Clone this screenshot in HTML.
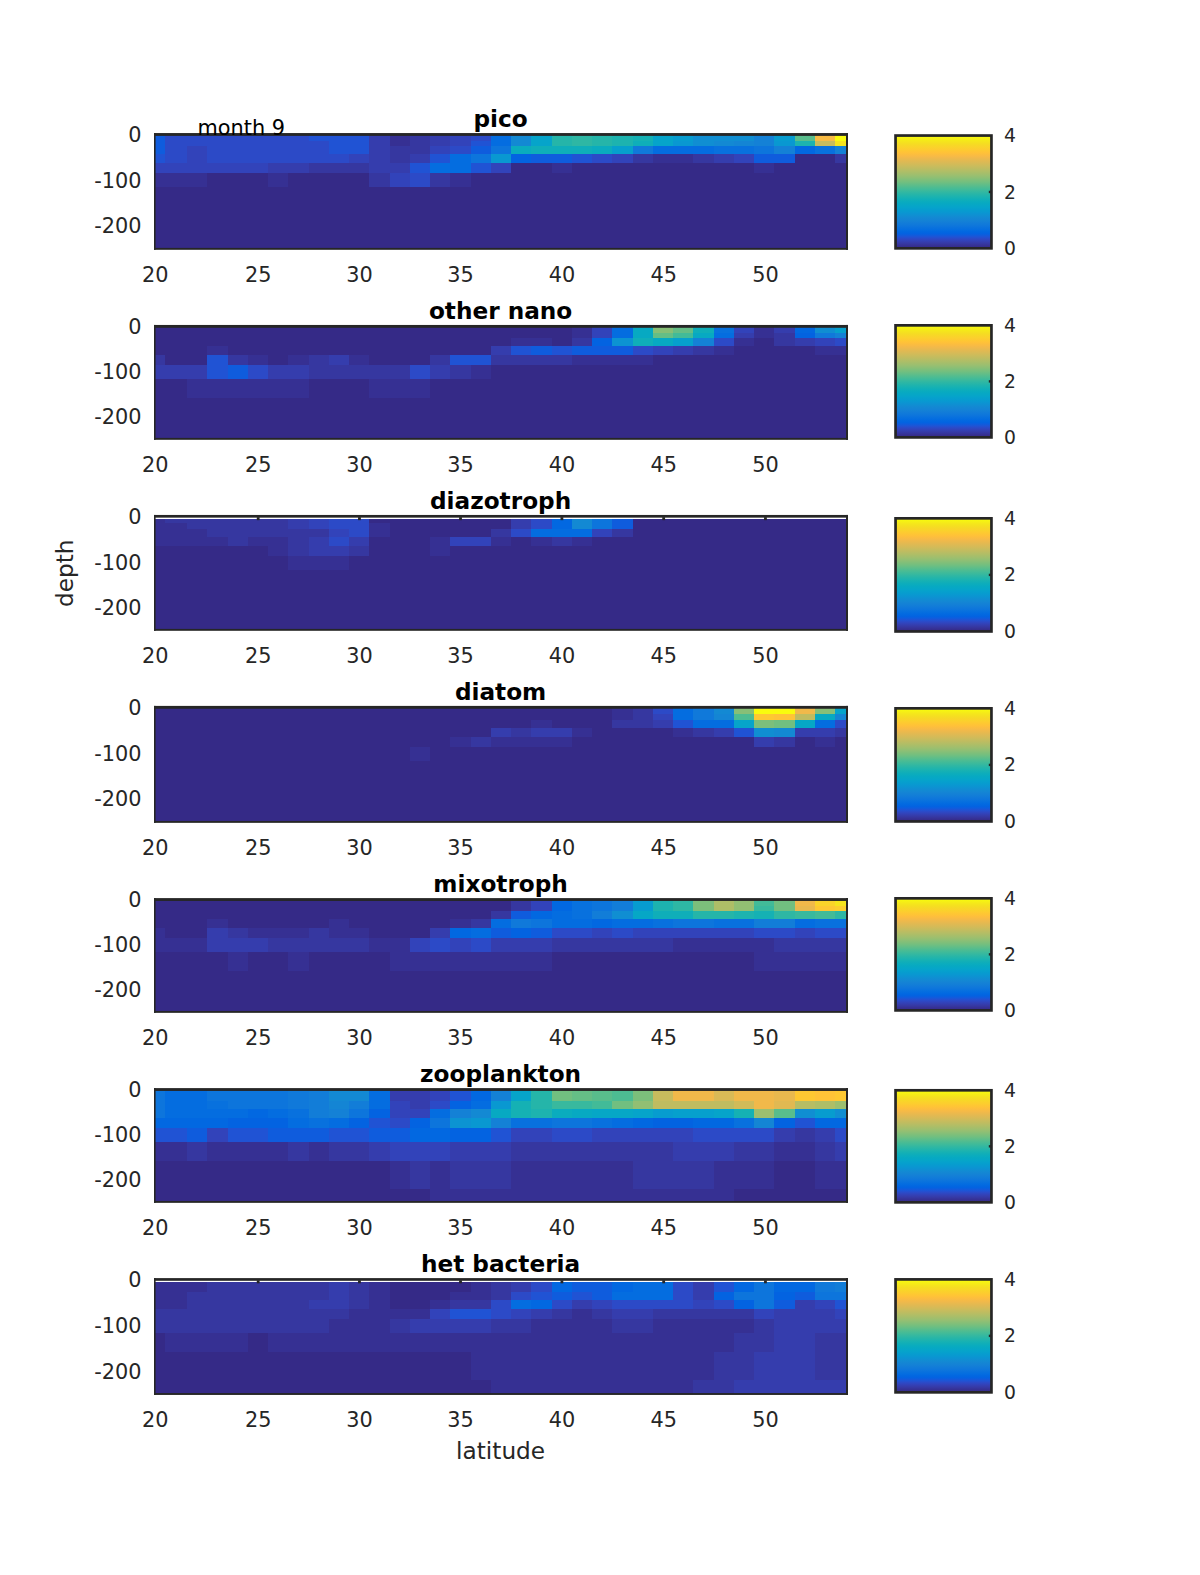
<!DOCTYPE html>
<html><head><meta charset="utf-8"><title>month 9</title>
<style>html,body{margin:0;padding:0;background:#fff}svg{display:block}text{font-family:'DejaVu Sans','Liberation Sans',sans-serif}</style></head>
<body>
<svg width="1200" height="1575" viewBox="0 0 1200 1575">
<defs><linearGradient id="pg" x1="0" y1="1" x2="0" y2="0"><stop offset="0.0078" stop-color="#352a87"/><stop offset="0.0234" stop-color="#363093"/><stop offset="0.0391" stop-color="#3637a0"/><stop offset="0.0547" stop-color="#353dad"/><stop offset="0.0703" stop-color="#3243ba"/><stop offset="0.0859" stop-color="#2c4ac7"/><stop offset="0.1016" stop-color="#2053d4"/><stop offset="0.1172" stop-color="#0f5cdd"/><stop offset="0.1328" stop-color="#0363e1"/><stop offset="0.1484" stop-color="#0268e1"/><stop offset="0.1641" stop-color="#046de0"/><stop offset="0.1797" stop-color="#0871de"/><stop offset="0.1953" stop-color="#0d75dc"/><stop offset="0.2109" stop-color="#1079da"/><stop offset="0.2266" stop-color="#127dd8"/><stop offset="0.2422" stop-color="#1481d6"/><stop offset="0.2578" stop-color="#1485d4"/><stop offset="0.2734" stop-color="#1389d3"/><stop offset="0.2891" stop-color="#108ed2"/><stop offset="0.3047" stop-color="#0c93d2"/><stop offset="0.3203" stop-color="#0998d1"/><stop offset="0.3359" stop-color="#079ccf"/><stop offset="0.3516" stop-color="#06a0cd"/><stop offset="0.3672" stop-color="#06a4ca"/><stop offset="0.3828" stop-color="#06a7c6"/><stop offset="0.3984" stop-color="#07a9c2"/><stop offset="0.4141" stop-color="#0aacbe"/><stop offset="0.4297" stop-color="#0faeb9"/><stop offset="0.4453" stop-color="#15b1b4"/><stop offset="0.4609" stop-color="#1db3af"/><stop offset="0.4766" stop-color="#25b5a9"/><stop offset="0.4922" stop-color="#2eb7a4"/><stop offset="0.5078" stop-color="#38b99e"/><stop offset="0.5234" stop-color="#42bb98"/><stop offset="0.5391" stop-color="#4dbc92"/><stop offset="0.5547" stop-color="#59bd8c"/><stop offset="0.5703" stop-color="#65be86"/><stop offset="0.5859" stop-color="#71bf80"/><stop offset="0.6016" stop-color="#7cbf7b"/><stop offset="0.6172" stop-color="#87bf77"/><stop offset="0.6328" stop-color="#92bf73"/><stop offset="0.6484" stop-color="#9cbf6f"/><stop offset="0.6641" stop-color="#a5be6b"/><stop offset="0.6797" stop-color="#aebe67"/><stop offset="0.6953" stop-color="#b7bd64"/><stop offset="0.7109" stop-color="#c0bc60"/><stop offset="0.7266" stop-color="#c8bc5d"/><stop offset="0.7422" stop-color="#d1bb59"/><stop offset="0.7578" stop-color="#d9ba56"/><stop offset="0.7734" stop-color="#e1b952"/><stop offset="0.7891" stop-color="#e9b94e"/><stop offset="0.8047" stop-color="#f1b94a"/><stop offset="0.8203" stop-color="#f8bb44"/><stop offset="0.8359" stop-color="#fdbe3d"/><stop offset="0.8516" stop-color="#ffc337"/><stop offset="0.8672" stop-color="#fec832"/><stop offset="0.8828" stop-color="#fcce2e"/><stop offset="0.8984" stop-color="#fad32a"/><stop offset="0.9141" stop-color="#f7d826"/><stop offset="0.9297" stop-color="#f5de21"/><stop offset="0.9453" stop-color="#f5e41d"/><stop offset="0.9609" stop-color="#f5eb18"/><stop offset="0.9766" stop-color="#f6f313"/><stop offset="0.9922" stop-color="#f9fb0e"/></linearGradient></defs>
<rect width="1200" height="1575" fill="#fff"/>
<g shape-rendering="crispEdges">
<rect x="154.80" y="134.05" width="692.40" height="114.75" fill="#352a87"/>
<rect x="154.80" y="134.05" width="10.20" height="6.90" fill="#0f5cdd"/><rect x="165.00" y="134.05" width="143.50" height="6.90" fill="#2c4ac7"/><rect x="308.50" y="134.05" width="60.75" height="6.90" fill="#2053d4"/><rect x="369.25" y="134.05" width="20.25" height="6.90" fill="#353dad"/><rect x="389.50" y="134.05" width="20.25" height="6.90" fill="#363093"/><rect x="409.75" y="134.05" width="20.25" height="6.90" fill="#3637a0"/><rect x="430.00" y="134.05" width="20.25" height="6.90" fill="#353dad"/><rect x="450.25" y="134.05" width="20.25" height="6.90" fill="#3243ba"/><rect x="470.50" y="134.05" width="20.25" height="6.90" fill="#2c4ac7"/><rect x="490.75" y="134.05" width="20.25" height="6.90" fill="#046de0"/><rect x="511.00" y="134.05" width="20.25" height="6.90" fill="#1389d3"/><rect x="531.25" y="134.05" width="20.25" height="6.90" fill="#06a4ca"/><rect x="551.50" y="134.05" width="20.25" height="6.90" fill="#25b5a9"/><rect x="571.75" y="134.05" width="20.25" height="6.90" fill="#2eb7a4"/><rect x="592.00" y="134.05" width="20.25" height="6.90" fill="#25b5a9"/><rect x="612.25" y="134.05" width="20.25" height="6.90" fill="#1db3af"/><rect x="632.50" y="134.05" width="20.25" height="6.90" fill="#15b1b4"/><rect x="652.75" y="134.05" width="20.25" height="6.90" fill="#06a4ca"/><rect x="673.00" y="134.05" width="20.25" height="6.90" fill="#079ccf"/><rect x="693.25" y="134.05" width="60.75" height="6.90" fill="#108ed2"/><rect x="754.00" y="134.05" width="20.25" height="6.90" fill="#1481d6"/><rect x="774.25" y="134.05" width="20.25" height="6.90" fill="#079ccf"/><rect x="794.50" y="134.05" width="20.25" height="6.90" fill="#59bd8c"/><rect x="814.75" y="134.05" width="20.25" height="6.90" fill="#f8bb44"/><rect x="835.00" y="134.05" width="12.20" height="6.90" fill="#f9fb0e"/>
<rect x="154.80" y="140.95" width="10.20" height="5.00" fill="#0f5cdd"/><rect x="165.00" y="140.95" width="163.75" height="5.00" fill="#2c4ac7"/><rect x="328.75" y="140.95" width="40.50" height="5.00" fill="#2053d4"/><rect x="369.25" y="140.95" width="20.25" height="5.00" fill="#353dad"/><rect x="389.50" y="140.95" width="20.25" height="5.00" fill="#363093"/><rect x="409.75" y="140.95" width="20.25" height="5.00" fill="#3637a0"/><rect x="430.00" y="140.95" width="20.25" height="5.00" fill="#353dad"/><rect x="450.25" y="140.95" width="20.25" height="5.00" fill="#3243ba"/><rect x="470.50" y="140.95" width="20.25" height="5.00" fill="#2053d4"/><rect x="490.75" y="140.95" width="20.25" height="5.00" fill="#046de0"/><rect x="511.00" y="140.95" width="20.25" height="5.00" fill="#1389d3"/><rect x="531.25" y="140.95" width="20.25" height="5.00" fill="#06a4ca"/><rect x="551.50" y="140.95" width="20.25" height="5.00" fill="#25b5a9"/><rect x="571.75" y="140.95" width="20.25" height="5.00" fill="#2eb7a4"/><rect x="592.00" y="140.95" width="20.25" height="5.00" fill="#25b5a9"/><rect x="612.25" y="140.95" width="20.25" height="5.00" fill="#1db3af"/><rect x="632.50" y="140.95" width="20.25" height="5.00" fill="#0faeb9"/><rect x="652.75" y="140.95" width="20.25" height="5.00" fill="#06a4ca"/><rect x="673.00" y="140.95" width="20.25" height="5.00" fill="#0998d1"/><rect x="693.25" y="140.95" width="20.25" height="5.00" fill="#108ed2"/><rect x="713.50" y="140.95" width="20.25" height="5.00" fill="#1389d3"/><rect x="733.75" y="140.95" width="20.25" height="5.00" fill="#1485d4"/><rect x="754.00" y="140.95" width="20.25" height="5.00" fill="#1481d6"/><rect x="774.25" y="140.95" width="20.25" height="5.00" fill="#0998d1"/><rect x="794.50" y="140.95" width="20.25" height="5.00" fill="#1db3af"/><rect x="814.75" y="140.95" width="20.25" height="5.00" fill="#c8bc5d"/><rect x="835.00" y="140.95" width="12.20" height="5.00" fill="#f5e41d"/>
<rect x="154.80" y="145.95" width="10.20" height="8.00" fill="#0f5cdd"/><rect x="165.00" y="145.95" width="22.00" height="8.00" fill="#2c4ac7"/><rect x="187.00" y="145.95" width="20.25" height="8.00" fill="#3243ba"/><rect x="207.25" y="145.95" width="121.50" height="8.00" fill="#2c4ac7"/><rect x="328.75" y="145.95" width="40.50" height="8.00" fill="#2053d4"/><rect x="369.25" y="145.95" width="20.25" height="8.00" fill="#353dad"/><rect x="389.50" y="145.95" width="40.50" height="8.00" fill="#3637a0"/><rect x="430.00" y="145.95" width="20.25" height="8.00" fill="#3243ba"/><rect x="450.25" y="145.95" width="20.25" height="8.00" fill="#2c4ac7"/><rect x="470.50" y="145.95" width="20.25" height="8.00" fill="#0f5cdd"/><rect x="490.75" y="145.95" width="20.25" height="8.00" fill="#0d75dc"/><rect x="511.00" y="145.95" width="20.25" height="8.00" fill="#0aacbe"/><rect x="531.25" y="145.95" width="60.75" height="8.00" fill="#0faeb9"/><rect x="592.00" y="145.95" width="20.25" height="8.00" fill="#0aacbe"/><rect x="612.25" y="145.95" width="20.25" height="8.00" fill="#06a0cd"/><rect x="632.50" y="145.95" width="20.25" height="8.00" fill="#1079da"/><rect x="652.75" y="145.95" width="60.75" height="8.00" fill="#046de0"/><rect x="713.50" y="145.95" width="40.50" height="8.00" fill="#0871de"/><rect x="754.00" y="145.95" width="20.25" height="8.00" fill="#0d75dc"/><rect x="774.25" y="145.95" width="20.25" height="8.00" fill="#1481d6"/><rect x="794.50" y="145.95" width="20.25" height="8.00" fill="#0268e1"/><rect x="814.75" y="145.95" width="20.25" height="8.00" fill="#0871de"/><rect x="835.00" y="145.95" width="12.20" height="8.00" fill="#1481d6"/>
<rect x="154.80" y="153.95" width="10.20" height="9.00" fill="#2053d4"/><rect x="165.00" y="153.95" width="22.00" height="9.00" fill="#2c4ac7"/><rect x="187.00" y="153.95" width="20.25" height="9.00" fill="#3243ba"/><rect x="207.25" y="153.95" width="141.75" height="9.00" fill="#2c4ac7"/><rect x="349.00" y="153.95" width="20.25" height="9.00" fill="#3243ba"/><rect x="369.25" y="153.95" width="20.25" height="9.00" fill="#353dad"/><rect x="389.50" y="153.95" width="20.25" height="9.00" fill="#3637a0"/><rect x="409.75" y="153.95" width="20.25" height="9.00" fill="#353dad"/><rect x="430.00" y="153.95" width="20.25" height="9.00" fill="#2053d4"/><rect x="450.25" y="153.95" width="20.25" height="9.00" fill="#046de0"/><rect x="470.50" y="153.95" width="20.25" height="9.00" fill="#0d75dc"/><rect x="490.75" y="153.95" width="20.25" height="9.00" fill="#0998d1"/><rect x="511.00" y="153.95" width="20.25" height="9.00" fill="#0363e1"/><rect x="531.25" y="153.95" width="40.50" height="9.00" fill="#0f5cdd"/><rect x="571.75" y="153.95" width="20.25" height="9.00" fill="#2053d4"/><rect x="592.00" y="153.95" width="20.25" height="9.00" fill="#2c4ac7"/><rect x="612.25" y="153.95" width="20.25" height="9.00" fill="#3243ba"/><rect x="632.50" y="153.95" width="20.25" height="9.00" fill="#3637a0"/><rect x="652.75" y="153.95" width="40.50" height="9.00" fill="#363093"/><rect x="693.25" y="153.95" width="20.25" height="9.00" fill="#3637a0"/><rect x="713.50" y="153.95" width="20.25" height="9.00" fill="#353dad"/><rect x="733.75" y="153.95" width="20.25" height="9.00" fill="#3243ba"/><rect x="754.00" y="153.95" width="40.50" height="9.00" fill="#0f5cdd"/><rect x="835.00" y="153.95" width="12.20" height="9.00" fill="#3637a0"/>
<rect x="154.80" y="162.95" width="113.20" height="10.20" fill="#3243ba"/><rect x="268.00" y="162.95" width="40.50" height="10.20" fill="#353dad"/><rect x="308.50" y="162.95" width="60.75" height="10.20" fill="#3637a0"/><rect x="369.25" y="162.95" width="40.50" height="10.20" fill="#353dad"/><rect x="409.75" y="162.95" width="20.25" height="10.20" fill="#2053d4"/><rect x="430.00" y="162.95" width="40.50" height="10.20" fill="#046de0"/><rect x="470.50" y="162.95" width="20.25" height="10.20" fill="#2053d4"/><rect x="490.75" y="162.95" width="20.25" height="10.20" fill="#3243ba"/><rect x="551.50" y="162.95" width="20.25" height="10.20" fill="#363093"/><rect x="754.00" y="162.95" width="20.25" height="10.20" fill="#363093"/>
<rect x="154.80" y="173.15" width="52.45" height="13.80" fill="#363093"/><rect x="268.00" y="173.15" width="20.25" height="13.80" fill="#363093"/><rect x="369.25" y="173.15" width="20.25" height="13.80" fill="#3637a0"/><rect x="389.50" y="173.15" width="20.25" height="13.80" fill="#3243ba"/><rect x="409.75" y="173.15" width="20.25" height="13.80" fill="#2c4ac7"/><rect x="430.00" y="173.15" width="20.25" height="13.80" fill="#3637a0"/><rect x="450.25" y="173.15" width="20.25" height="13.80" fill="#363093"/>



</g>
<g fill="#262626"><rect x="154.00" y="133.05" width="694.00" height="2.85"/><rect x="154.00" y="247.90" width="694.00" height="1.90"/><rect x="154.00" y="133.05" width="1.60" height="116.75"/><rect x="846.00" y="133.05" width="2.00" height="116.75"/></g>
<text x="500.6" y="126.65" font-size="23.2" font-weight="bold" text-anchor="middle" fill="#000">pico</text>
<text x="141.5" y="142.05" font-size="20.83" text-anchor="end" fill="#262626">0</text><text x="141.5" y="188.09" font-size="20.83" text-anchor="end" fill="#262626">-100</text><text x="141.5" y="233.43" font-size="20.83" text-anchor="end" fill="#262626">-200</text>
<text x="155.20" y="282.00" font-size="20.83" text-anchor="middle" fill="#262626">20</text><text x="258.18" y="282.00" font-size="20.83" text-anchor="middle" fill="#262626">25</text><text x="359.45" y="282.00" font-size="20.83" text-anchor="middle" fill="#262626">30</text><text x="460.52" y="282.00" font-size="20.83" text-anchor="middle" fill="#262626">35</text><text x="561.90" y="282.00" font-size="20.83" text-anchor="middle" fill="#262626">40</text><text x="663.67" y="282.00" font-size="20.83" text-anchor="middle" fill="#262626">45</text><text x="765.45" y="282.00" font-size="20.83" text-anchor="middle" fill="#262626">50</text>
<rect x="895.55" y="135.55" width="95.90" height="112.80" fill="url(#pg)" stroke="#262626" stroke-width="2.7"/><rect x="988.8" y="190.75" width="3" height="2.4" fill="#262626"/><text x="1004.1" y="254.95" font-size="18.75" fill="#262626">0</text><text x="1004.1" y="198.50" font-size="18.75" fill="#262626">2</text><text x="1004.1" y="142.05" font-size="18.75" fill="#262626">4</text>
<g shape-rendering="crispEdges">
<rect x="154.80" y="325.95" width="692.40" height="112.85" fill="#352a87"/>
<rect x="571.75" y="325.95" width="20.25" height="6.90" fill="#363093"/><rect x="592.00" y="325.95" width="20.25" height="6.90" fill="#3243ba"/><rect x="612.25" y="325.95" width="20.25" height="6.90" fill="#046de0"/><rect x="632.50" y="325.95" width="20.25" height="6.90" fill="#07a9c2"/><rect x="652.75" y="325.95" width="20.25" height="6.90" fill="#87bf77"/><rect x="673.00" y="325.95" width="20.25" height="6.90" fill="#65be86"/><rect x="693.25" y="325.95" width="20.25" height="6.90" fill="#0faeb9"/><rect x="713.50" y="325.95" width="20.25" height="6.90" fill="#0871de"/><rect x="733.75" y="325.95" width="20.25" height="6.90" fill="#3243ba"/><rect x="754.00" y="325.95" width="20.25" height="6.90" fill="#363093"/><rect x="774.25" y="325.95" width="20.25" height="6.90" fill="#353dad"/><rect x="794.50" y="325.95" width="20.25" height="6.90" fill="#0268e1"/><rect x="814.75" y="325.95" width="20.25" height="6.90" fill="#108ed2"/><rect x="835.00" y="325.95" width="12.20" height="6.90" fill="#06a0cd"/>
<rect x="571.75" y="332.85" width="20.25" height="5.00" fill="#363093"/><rect x="592.00" y="332.85" width="20.25" height="5.00" fill="#3243ba"/><rect x="612.25" y="332.85" width="20.25" height="5.00" fill="#046de0"/><rect x="632.50" y="332.85" width="20.25" height="5.00" fill="#07a9c2"/><rect x="652.75" y="332.85" width="20.25" height="5.00" fill="#65be86"/><rect x="673.00" y="332.85" width="20.25" height="5.00" fill="#42bb98"/><rect x="693.25" y="332.85" width="20.25" height="5.00" fill="#07a9c2"/><rect x="713.50" y="332.85" width="20.25" height="5.00" fill="#046de0"/><rect x="733.75" y="332.85" width="20.25" height="5.00" fill="#353dad"/><rect x="754.00" y="332.85" width="20.25" height="5.00" fill="#363093"/><rect x="774.25" y="332.85" width="20.25" height="5.00" fill="#3637a0"/><rect x="794.50" y="332.85" width="20.25" height="5.00" fill="#0363e1"/><rect x="814.75" y="332.85" width="20.25" height="5.00" fill="#1079da"/><rect x="835.00" y="332.85" width="12.20" height="5.00" fill="#1481d6"/>
<rect x="511.00" y="337.85" width="40.50" height="8.00" fill="#363093"/><rect x="571.75" y="337.85" width="20.25" height="8.00" fill="#3637a0"/><rect x="592.00" y="337.85" width="20.25" height="8.00" fill="#0363e1"/><rect x="612.25" y="337.85" width="20.25" height="8.00" fill="#0c93d2"/><rect x="632.50" y="337.85" width="20.25" height="8.00" fill="#0faeb9"/><rect x="652.75" y="337.85" width="20.25" height="8.00" fill="#07a9c2"/><rect x="673.00" y="337.85" width="20.25" height="8.00" fill="#06a0cd"/><rect x="693.25" y="337.85" width="20.25" height="8.00" fill="#1481d6"/><rect x="713.50" y="337.85" width="20.25" height="8.00" fill="#2c4ac7"/><rect x="733.75" y="337.85" width="20.25" height="8.00" fill="#363093"/><rect x="774.25" y="337.85" width="20.25" height="8.00" fill="#3637a0"/><rect x="794.50" y="337.85" width="20.25" height="8.00" fill="#353dad"/><rect x="814.75" y="337.85" width="20.25" height="8.00" fill="#3243ba"/><rect x="835.00" y="337.85" width="12.20" height="8.00" fill="#2c4ac7"/>
<rect x="207.25" y="345.85" width="20.25" height="9.00" fill="#363093"/><rect x="490.75" y="345.85" width="20.25" height="9.00" fill="#353dad"/><rect x="511.00" y="345.85" width="20.25" height="9.00" fill="#2053d4"/><rect x="531.25" y="345.85" width="20.25" height="9.00" fill="#0f5cdd"/><rect x="551.50" y="345.85" width="20.25" height="9.00" fill="#2053d4"/><rect x="571.75" y="345.85" width="60.75" height="9.00" fill="#0f5cdd"/><rect x="632.50" y="345.85" width="20.25" height="9.00" fill="#2c4ac7"/><rect x="652.75" y="345.85" width="20.25" height="9.00" fill="#3243ba"/><rect x="673.00" y="345.85" width="20.25" height="9.00" fill="#353dad"/><rect x="693.25" y="345.85" width="20.25" height="9.00" fill="#3637a0"/><rect x="713.50" y="345.85" width="20.25" height="9.00" fill="#363093"/><rect x="814.75" y="345.85" width="32.45" height="9.00" fill="#363093"/>
<rect x="154.80" y="354.85" width="10.20" height="10.20" fill="#3637a0"/><rect x="207.25" y="354.85" width="20.25" height="10.20" fill="#2053d4"/><rect x="227.50" y="354.85" width="20.25" height="10.20" fill="#3637a0"/><rect x="247.75" y="354.85" width="20.25" height="10.20" fill="#363093"/><rect x="288.25" y="354.85" width="20.25" height="10.20" fill="#363093"/><rect x="308.50" y="354.85" width="20.25" height="10.20" fill="#3637a0"/><rect x="328.75" y="354.85" width="20.25" height="10.20" fill="#353dad"/><rect x="349.00" y="354.85" width="20.25" height="10.20" fill="#363093"/><rect x="430.00" y="354.85" width="20.25" height="10.20" fill="#3637a0"/><rect x="450.25" y="354.85" width="40.50" height="10.20" fill="#2053d4"/><rect x="490.75" y="354.85" width="81.00" height="10.20" fill="#3637a0"/><rect x="571.75" y="354.85" width="81.00" height="10.20" fill="#363093"/>
<rect x="154.80" y="365.05" width="52.45" height="13.80" fill="#353dad"/><rect x="207.25" y="365.05" width="20.25" height="13.80" fill="#2053d4"/><rect x="227.50" y="365.05" width="20.25" height="13.80" fill="#0f5cdd"/><rect x="247.75" y="365.05" width="20.25" height="13.80" fill="#2c4ac7"/><rect x="268.00" y="365.05" width="40.50" height="13.80" fill="#353dad"/><rect x="308.50" y="365.05" width="101.25" height="13.80" fill="#3637a0"/><rect x="409.75" y="365.05" width="20.25" height="13.80" fill="#2c4ac7"/><rect x="430.00" y="365.05" width="20.25" height="13.80" fill="#353dad"/><rect x="450.25" y="365.05" width="20.25" height="13.80" fill="#3637a0"/><rect x="470.50" y="365.05" width="20.25" height="13.80" fill="#363093"/>
<rect x="187.00" y="378.85" width="121.50" height="19.00" fill="#363093"/><rect x="369.25" y="378.85" width="60.75" height="19.00" fill="#363093"/>


</g>
<g fill="#262626"><rect x="154.00" y="324.95" width="694.00" height="2.85"/><rect x="154.00" y="437.90" width="694.00" height="1.90"/><rect x="154.00" y="324.95" width="1.60" height="114.85"/><rect x="846.00" y="324.95" width="2.00" height="114.85"/></g>
<text x="500.6" y="318.55" font-size="23.2" font-weight="bold" text-anchor="middle" fill="#000">other nano</text>
<text x="141.5" y="333.95" font-size="20.83" text-anchor="end" fill="#262626">0</text><text x="141.5" y="379.23" font-size="20.83" text-anchor="end" fill="#262626">-100</text><text x="141.5" y="423.81" font-size="20.83" text-anchor="end" fill="#262626">-200</text>
<text x="155.20" y="472.00" font-size="20.83" text-anchor="middle" fill="#262626">20</text><text x="258.18" y="472.00" font-size="20.83" text-anchor="middle" fill="#262626">25</text><text x="359.45" y="472.00" font-size="20.83" text-anchor="middle" fill="#262626">30</text><text x="460.52" y="472.00" font-size="20.83" text-anchor="middle" fill="#262626">35</text><text x="561.90" y="472.00" font-size="20.83" text-anchor="middle" fill="#262626">40</text><text x="663.67" y="472.00" font-size="20.83" text-anchor="middle" fill="#262626">45</text><text x="765.45" y="472.00" font-size="20.83" text-anchor="middle" fill="#262626">50</text>
<rect x="895.55" y="325.35" width="95.90" height="112.05" fill="url(#pg)" stroke="#262626" stroke-width="2.7"/><rect x="988.8" y="380.18" width="3" height="2.4" fill="#262626"/><text x="1004.1" y="444.00" font-size="18.75" fill="#262626">0</text><text x="1004.1" y="387.93" font-size="18.75" fill="#262626">2</text><text x="1004.1" y="331.85" font-size="18.75" fill="#262626">4</text>
<g shape-rendering="crispEdges">
<rect x="154.80" y="519.05" width="692.40" height="110.75" fill="#352a87"/>
<rect x="154.80" y="519.05" width="10.20" height="4.00" fill="#363093"/><rect x="165.00" y="519.05" width="123.25" height="4.00" fill="#3637a0"/><rect x="288.25" y="519.05" width="20.25" height="4.00" fill="#353dad"/><rect x="308.50" y="519.05" width="20.25" height="4.00" fill="#3243ba"/><rect x="328.75" y="519.05" width="40.50" height="4.00" fill="#2c4ac7"/><rect x="511.00" y="519.05" width="20.25" height="4.00" fill="#353dad"/><rect x="531.25" y="519.05" width="20.25" height="4.00" fill="#2c4ac7"/><rect x="551.50" y="519.05" width="20.25" height="4.00" fill="#0268e1"/><rect x="571.75" y="519.05" width="20.25" height="4.00" fill="#1389d3"/><rect x="592.00" y="519.05" width="20.25" height="4.00" fill="#0d75dc"/><rect x="612.25" y="519.05" width="20.25" height="4.00" fill="#0f5cdd"/>
<rect x="154.80" y="523.05" width="32.20" height="6.00" fill="#363093"/><rect x="187.00" y="523.05" width="101.25" height="6.00" fill="#3637a0"/><rect x="288.25" y="523.05" width="20.25" height="6.00" fill="#353dad"/><rect x="308.50" y="523.05" width="20.25" height="6.00" fill="#3243ba"/><rect x="328.75" y="523.05" width="40.50" height="6.00" fill="#2c4ac7"/><rect x="369.25" y="523.05" width="20.25" height="6.00" fill="#363093"/><rect x="511.00" y="523.05" width="20.25" height="6.00" fill="#353dad"/><rect x="531.25" y="523.05" width="20.25" height="6.00" fill="#2c4ac7"/><rect x="551.50" y="523.05" width="20.25" height="6.00" fill="#0268e1"/><rect x="571.75" y="523.05" width="20.25" height="6.00" fill="#1389d3"/><rect x="592.00" y="523.05" width="20.25" height="6.00" fill="#0d75dc"/><rect x="612.25" y="523.05" width="20.25" height="6.00" fill="#0f5cdd"/>
<rect x="154.80" y="529.05" width="52.45" height="8.00" fill="#363093"/><rect x="207.25" y="529.05" width="121.50" height="8.00" fill="#3637a0"/><rect x="328.75" y="529.05" width="20.25" height="8.00" fill="#3243ba"/><rect x="349.00" y="529.05" width="20.25" height="8.00" fill="#2c4ac7"/><rect x="369.25" y="529.05" width="20.25" height="8.00" fill="#363093"/><rect x="490.75" y="529.05" width="20.25" height="8.00" fill="#3637a0"/><rect x="511.00" y="529.05" width="20.25" height="8.00" fill="#2c4ac7"/><rect x="531.25" y="529.05" width="60.75" height="8.00" fill="#046de0"/><rect x="592.00" y="529.05" width="20.25" height="8.00" fill="#3243ba"/><rect x="612.25" y="529.05" width="20.25" height="8.00" fill="#3637a0"/>
<rect x="154.80" y="537.05" width="72.70" height="9.00" fill="#363093"/><rect x="227.50" y="537.05" width="20.25" height="9.00" fill="#3637a0"/><rect x="247.75" y="537.05" width="40.50" height="9.00" fill="#363093"/><rect x="288.25" y="537.05" width="20.25" height="9.00" fill="#3637a0"/><rect x="308.50" y="537.05" width="20.25" height="9.00" fill="#353dad"/><rect x="328.75" y="537.05" width="20.25" height="9.00" fill="#2c4ac7"/><rect x="349.00" y="537.05" width="20.25" height="9.00" fill="#353dad"/><rect x="430.00" y="537.05" width="20.25" height="9.00" fill="#363093"/><rect x="450.25" y="537.05" width="40.50" height="9.00" fill="#3243ba"/><rect x="490.75" y="537.05" width="20.25" height="9.00" fill="#363093"/><rect x="531.25" y="537.05" width="20.25" height="9.00" fill="#363093"/><rect x="551.50" y="537.05" width="20.25" height="9.00" fill="#3637a0"/><rect x="571.75" y="537.05" width="20.25" height="9.00" fill="#363093"/>
<rect x="268.00" y="546.05" width="20.25" height="10.10" fill="#363093"/><rect x="288.25" y="546.05" width="20.25" height="10.10" fill="#3637a0"/><rect x="308.50" y="546.05" width="40.50" height="10.10" fill="#353dad"/><rect x="349.00" y="546.05" width="20.25" height="10.10" fill="#3637a0"/><rect x="430.00" y="546.05" width="20.25" height="10.10" fill="#363093"/>
<rect x="288.25" y="556.15" width="60.75" height="13.80" fill="#363093"/>



</g>
<g fill="#262626"><rect x="256.78" y="517.15" width="2.8" height="3"/><rect x="358.05" y="517.15" width="2.8" height="3"/><rect x="459.12" y="517.15" width="2.8" height="3"/><rect x="560.50" y="517.15" width="2.8" height="3"/><rect x="662.27" y="517.15" width="2.8" height="3"/><rect x="764.05" y="517.15" width="2.8" height="3"/><rect x="154.00" y="514.95" width="694.00" height="2.70"/><rect x="154.00" y="628.90" width="694.00" height="1.90"/><rect x="154.00" y="514.95" width="1.60" height="115.85"/><rect x="846.00" y="514.95" width="2.00" height="115.85"/></g>
<text x="500.6" y="508.55" font-size="23.2" font-weight="bold" text-anchor="middle" fill="#000">diazotroph</text>
<text x="141.5" y="523.95" font-size="20.83" text-anchor="end" fill="#262626">0</text><text x="141.5" y="569.63" font-size="20.83" text-anchor="end" fill="#262626">-100</text><text x="141.5" y="614.61" font-size="20.83" text-anchor="end" fill="#262626">-200</text>
<text x="155.20" y="663.00" font-size="20.83" text-anchor="middle" fill="#262626">20</text><text x="258.18" y="663.00" font-size="20.83" text-anchor="middle" fill="#262626">25</text><text x="359.45" y="663.00" font-size="20.83" text-anchor="middle" fill="#262626">30</text><text x="460.52" y="663.00" font-size="20.83" text-anchor="middle" fill="#262626">35</text><text x="561.90" y="663.00" font-size="20.83" text-anchor="middle" fill="#262626">40</text><text x="663.67" y="663.00" font-size="20.83" text-anchor="middle" fill="#262626">45</text><text x="765.45" y="663.00" font-size="20.83" text-anchor="middle" fill="#262626">50</text>
<rect x="895.55" y="518.35" width="95.90" height="113.10" fill="url(#pg)" stroke="#262626" stroke-width="2.7"/><rect x="988.8" y="573.70" width="3" height="2.4" fill="#262626"/><text x="1004.1" y="638.05" font-size="18.75" fill="#262626">0</text><text x="1004.1" y="581.45" font-size="18.75" fill="#262626">2</text><text x="1004.1" y="524.85" font-size="18.75" fill="#262626">4</text>
<g shape-rendering="crispEdges">
<rect x="154.80" y="706.90" width="692.40" height="114.95" fill="#352a87"/>
<rect x="612.25" y="706.90" width="20.25" height="7.10" fill="#363093"/><rect x="632.50" y="706.90" width="20.25" height="7.10" fill="#3637a0"/><rect x="652.75" y="706.90" width="20.25" height="7.10" fill="#2c4ac7"/><rect x="673.00" y="706.90" width="20.25" height="7.10" fill="#046de0"/><rect x="693.25" y="706.90" width="20.25" height="7.10" fill="#1079da"/><rect x="713.50" y="706.90" width="20.25" height="7.10" fill="#1389d3"/><rect x="733.75" y="706.90" width="20.25" height="7.10" fill="#87bf77"/><rect x="754.00" y="706.90" width="40.50" height="7.10" fill="#f9fb0e"/><rect x="794.50" y="706.90" width="20.25" height="7.10" fill="#f1b94a"/><rect x="814.75" y="706.90" width="20.25" height="7.10" fill="#87bf77"/><rect x="835.00" y="706.90" width="12.20" height="7.10" fill="#06a4ca"/>
<rect x="612.25" y="714.00" width="20.25" height="6.00" fill="#363093"/><rect x="632.50" y="714.00" width="20.25" height="6.00" fill="#3637a0"/><rect x="652.75" y="714.00" width="20.25" height="6.00" fill="#3243ba"/><rect x="673.00" y="714.00" width="20.25" height="6.00" fill="#046de0"/><rect x="693.25" y="714.00" width="20.25" height="6.00" fill="#1079da"/><rect x="713.50" y="714.00" width="20.25" height="6.00" fill="#1485d4"/><rect x="733.75" y="714.00" width="20.25" height="6.00" fill="#4dbc92"/><rect x="754.00" y="714.00" width="20.25" height="6.00" fill="#fec832"/><rect x="774.25" y="714.00" width="20.25" height="6.00" fill="#ffc337"/><rect x="794.50" y="714.00" width="20.25" height="6.00" fill="#c0bc60"/><rect x="814.75" y="714.00" width="20.25" height="6.00" fill="#07a9c2"/><rect x="835.00" y="714.00" width="12.20" height="6.00" fill="#1485d4"/>
<rect x="531.25" y="720.00" width="20.25" height="8.00" fill="#363093"/><rect x="612.25" y="720.00" width="40.50" height="8.00" fill="#3637a0"/><rect x="652.75" y="720.00" width="20.25" height="8.00" fill="#353dad"/><rect x="673.00" y="720.00" width="20.25" height="8.00" fill="#2053d4"/><rect x="693.25" y="720.00" width="40.50" height="8.00" fill="#046de0"/><rect x="733.75" y="720.00" width="20.25" height="8.00" fill="#06a4ca"/><rect x="754.00" y="720.00" width="20.25" height="8.00" fill="#7cbf7b"/><rect x="774.25" y="720.00" width="20.25" height="8.00" fill="#71bf80"/><rect x="794.50" y="720.00" width="20.25" height="8.00" fill="#06a7c6"/><rect x="814.75" y="720.00" width="20.25" height="8.00" fill="#046de0"/><rect x="835.00" y="720.00" width="12.20" height="8.00" fill="#2c4ac7"/>
<rect x="490.75" y="728.00" width="20.25" height="9.00" fill="#353dad"/><rect x="511.00" y="728.00" width="20.25" height="9.00" fill="#3637a0"/><rect x="531.25" y="728.00" width="40.50" height="9.00" fill="#353dad"/><rect x="571.75" y="728.00" width="20.25" height="9.00" fill="#363093"/><rect x="673.00" y="728.00" width="20.25" height="9.00" fill="#363093"/><rect x="693.25" y="728.00" width="20.25" height="9.00" fill="#3637a0"/><rect x="713.50" y="728.00" width="20.25" height="9.00" fill="#353dad"/><rect x="733.75" y="728.00" width="20.25" height="9.00" fill="#2053d4"/><rect x="754.00" y="728.00" width="20.25" height="9.00" fill="#108ed2"/><rect x="774.25" y="728.00" width="20.25" height="9.00" fill="#1389d3"/><rect x="794.50" y="728.00" width="40.50" height="9.00" fill="#353dad"/><rect x="835.00" y="728.00" width="12.20" height="9.00" fill="#3637a0"/>
<rect x="450.25" y="737.00" width="20.25" height="10.10" fill="#363093"/><rect x="470.50" y="737.00" width="20.25" height="10.10" fill="#3637a0"/><rect x="490.75" y="737.00" width="81.00" height="10.10" fill="#363093"/><rect x="754.00" y="737.00" width="20.25" height="10.10" fill="#353dad"/><rect x="774.25" y="737.00" width="20.25" height="10.10" fill="#3637a0"/><rect x="814.75" y="737.00" width="20.25" height="10.10" fill="#363093"/>
<rect x="409.75" y="747.10" width="20.25" height="13.80" fill="#363093"/>



</g>
<g fill="#262626"><rect x="154.00" y="705.90" width="694.00" height="2.85"/><rect x="154.00" y="820.95" width="694.00" height="1.90"/><rect x="154.00" y="705.90" width="1.60" height="116.95"/><rect x="846.00" y="705.90" width="2.00" height="116.95"/></g>
<text x="500.6" y="699.50" font-size="23.2" font-weight="bold" text-anchor="middle" fill="#000">diatom</text>
<text x="141.5" y="714.90" font-size="20.83" text-anchor="end" fill="#262626">0</text><text x="141.5" y="761.02" font-size="20.83" text-anchor="end" fill="#262626">-100</text><text x="141.5" y="806.44" font-size="20.83" text-anchor="end" fill="#262626">-200</text>
<text x="155.20" y="855.05" font-size="20.83" text-anchor="middle" fill="#262626">20</text><text x="258.18" y="855.05" font-size="20.83" text-anchor="middle" fill="#262626">25</text><text x="359.45" y="855.05" font-size="20.83" text-anchor="middle" fill="#262626">30</text><text x="460.52" y="855.05" font-size="20.83" text-anchor="middle" fill="#262626">35</text><text x="561.90" y="855.05" font-size="20.83" text-anchor="middle" fill="#262626">40</text><text x="663.67" y="855.05" font-size="20.83" text-anchor="middle" fill="#262626">45</text><text x="765.45" y="855.05" font-size="20.83" text-anchor="middle" fill="#262626">50</text>
<rect x="895.55" y="708.35" width="95.90" height="113.10" fill="url(#pg)" stroke="#262626" stroke-width="2.7"/><rect x="988.8" y="763.70" width="3" height="2.4" fill="#262626"/><text x="1004.1" y="828.05" font-size="18.75" fill="#262626">0</text><text x="1004.1" y="771.45" font-size="18.75" fill="#262626">2</text><text x="1004.1" y="714.85" font-size="18.75" fill="#262626">4</text>
<g shape-rendering="crispEdges">
<rect x="154.80" y="899.10" width="692.40" height="112.75" fill="#352a87"/>
<rect x="511.00" y="899.10" width="20.25" height="6.90" fill="#3637a0"/><rect x="531.25" y="899.10" width="20.25" height="6.90" fill="#3243ba"/><rect x="551.50" y="899.10" width="20.25" height="6.90" fill="#0268e1"/><rect x="571.75" y="899.10" width="20.25" height="6.90" fill="#0871de"/><rect x="592.00" y="899.10" width="20.25" height="6.90" fill="#0d75dc"/><rect x="612.25" y="899.10" width="20.25" height="6.90" fill="#127dd8"/><rect x="632.50" y="899.10" width="20.25" height="6.90" fill="#079ccf"/><rect x="652.75" y="899.10" width="20.25" height="6.90" fill="#1db3af"/><rect x="673.00" y="899.10" width="20.25" height="6.90" fill="#2eb7a4"/><rect x="693.25" y="899.10" width="20.25" height="6.90" fill="#7cbf7b"/><rect x="713.50" y="899.10" width="20.25" height="6.90" fill="#aebe67"/><rect x="733.75" y="899.10" width="20.25" height="6.90" fill="#92bf73"/><rect x="754.00" y="899.10" width="20.25" height="6.90" fill="#42bb98"/><rect x="774.25" y="899.10" width="20.25" height="6.90" fill="#71bf80"/><rect x="794.50" y="899.10" width="20.25" height="6.90" fill="#f1b94a"/><rect x="814.75" y="899.10" width="20.25" height="6.90" fill="#fad32a"/><rect x="835.00" y="899.10" width="12.20" height="6.90" fill="#f5e41d"/>
<rect x="511.00" y="906.00" width="20.25" height="5.00" fill="#3637a0"/><rect x="531.25" y="906.00" width="20.25" height="5.00" fill="#3243ba"/><rect x="551.50" y="906.00" width="20.25" height="5.00" fill="#0268e1"/><rect x="571.75" y="906.00" width="20.25" height="5.00" fill="#0871de"/><rect x="592.00" y="906.00" width="20.25" height="5.00" fill="#0d75dc"/><rect x="612.25" y="906.00" width="20.25" height="5.00" fill="#127dd8"/><rect x="632.50" y="906.00" width="20.25" height="5.00" fill="#079ccf"/><rect x="652.75" y="906.00" width="20.25" height="5.00" fill="#1db3af"/><rect x="673.00" y="906.00" width="20.25" height="5.00" fill="#2eb7a4"/><rect x="693.25" y="906.00" width="20.25" height="5.00" fill="#7cbf7b"/><rect x="713.50" y="906.00" width="20.25" height="5.00" fill="#aebe67"/><rect x="733.75" y="906.00" width="20.25" height="5.00" fill="#92bf73"/><rect x="754.00" y="906.00" width="20.25" height="5.00" fill="#38b99e"/><rect x="774.25" y="906.00" width="20.25" height="5.00" fill="#71bf80"/><rect x="794.50" y="906.00" width="20.25" height="5.00" fill="#e9b94e"/><rect x="814.75" y="906.00" width="20.25" height="5.00" fill="#fec832"/><rect x="835.00" y="906.00" width="12.20" height="5.00" fill="#fcce2e"/>
<rect x="490.75" y="911.00" width="20.25" height="8.00" fill="#3637a0"/><rect x="511.00" y="911.00" width="20.25" height="8.00" fill="#0f5cdd"/><rect x="531.25" y="911.00" width="20.25" height="8.00" fill="#0268e1"/><rect x="551.50" y="911.00" width="20.25" height="8.00" fill="#046de0"/><rect x="571.75" y="911.00" width="20.25" height="8.00" fill="#0871de"/><rect x="592.00" y="911.00" width="20.25" height="8.00" fill="#127dd8"/><rect x="612.25" y="911.00" width="20.25" height="8.00" fill="#108ed2"/><rect x="632.50" y="911.00" width="20.25" height="8.00" fill="#06a7c6"/><rect x="652.75" y="911.00" width="40.50" height="8.00" fill="#0faeb9"/><rect x="693.25" y="911.00" width="40.50" height="8.00" fill="#25b5a9"/><rect x="733.75" y="911.00" width="20.25" height="8.00" fill="#1db3af"/><rect x="754.00" y="911.00" width="20.25" height="8.00" fill="#15b1b4"/><rect x="774.25" y="911.00" width="20.25" height="8.00" fill="#2eb7a4"/><rect x="794.50" y="911.00" width="20.25" height="8.00" fill="#38b99e"/><rect x="814.75" y="911.00" width="20.25" height="8.00" fill="#42bb98"/><rect x="835.00" y="911.00" width="12.20" height="8.00" fill="#2eb7a4"/>
<rect x="207.25" y="919.00" width="20.25" height="9.00" fill="#363093"/><rect x="328.75" y="919.00" width="20.25" height="9.00" fill="#363093"/><rect x="450.25" y="919.00" width="20.25" height="9.00" fill="#363093"/><rect x="470.50" y="919.00" width="20.25" height="9.00" fill="#3637a0"/><rect x="490.75" y="919.00" width="20.25" height="9.00" fill="#046de0"/><rect x="511.00" y="919.00" width="20.25" height="9.00" fill="#1079da"/><rect x="531.25" y="919.00" width="20.25" height="9.00" fill="#0d75dc"/><rect x="551.50" y="919.00" width="40.50" height="9.00" fill="#046de0"/><rect x="592.00" y="919.00" width="20.25" height="9.00" fill="#0268e1"/><rect x="612.25" y="919.00" width="40.50" height="9.00" fill="#046de0"/><rect x="652.75" y="919.00" width="20.25" height="9.00" fill="#0871de"/><rect x="673.00" y="919.00" width="40.50" height="9.00" fill="#0d75dc"/><rect x="713.50" y="919.00" width="40.50" height="9.00" fill="#0871de"/><rect x="754.00" y="919.00" width="40.50" height="9.00" fill="#127dd8"/><rect x="794.50" y="919.00" width="20.25" height="9.00" fill="#046de0"/><rect x="814.75" y="919.00" width="32.45" height="9.00" fill="#0871de"/>
<rect x="154.80" y="928.00" width="10.20" height="10.20" fill="#363093"/><rect x="207.25" y="928.00" width="20.25" height="10.20" fill="#353dad"/><rect x="227.50" y="928.00" width="20.25" height="10.20" fill="#3637a0"/><rect x="247.75" y="928.00" width="60.75" height="10.20" fill="#363093"/><rect x="308.50" y="928.00" width="20.25" height="10.20" fill="#3637a0"/><rect x="328.75" y="928.00" width="40.50" height="10.20" fill="#363093"/><rect x="430.00" y="928.00" width="20.25" height="10.20" fill="#353dad"/><rect x="450.25" y="928.00" width="20.25" height="10.20" fill="#0268e1"/><rect x="470.50" y="928.00" width="20.25" height="10.20" fill="#046de0"/><rect x="490.75" y="928.00" width="20.25" height="10.20" fill="#0f5cdd"/><rect x="511.00" y="928.00" width="20.25" height="10.20" fill="#0363e1"/><rect x="531.25" y="928.00" width="20.25" height="10.20" fill="#0f5cdd"/><rect x="551.50" y="928.00" width="40.50" height="10.20" fill="#2c4ac7"/><rect x="592.00" y="928.00" width="20.25" height="10.20" fill="#3243ba"/><rect x="612.25" y="928.00" width="20.25" height="10.20" fill="#2c4ac7"/><rect x="632.50" y="928.00" width="121.50" height="10.20" fill="#3243ba"/><rect x="754.00" y="928.00" width="40.50" height="10.20" fill="#2c4ac7"/><rect x="794.50" y="928.00" width="20.25" height="10.20" fill="#3243ba"/><rect x="814.75" y="928.00" width="32.45" height="10.20" fill="#2c4ac7"/>
<rect x="154.80" y="938.20" width="52.45" height="13.80" fill="#363093"/><rect x="207.25" y="938.20" width="60.75" height="13.80" fill="#353dad"/><rect x="268.00" y="938.20" width="101.25" height="13.80" fill="#3637a0"/><rect x="369.25" y="938.20" width="40.50" height="13.80" fill="#363093"/><rect x="409.75" y="938.20" width="20.25" height="13.80" fill="#3243ba"/><rect x="430.00" y="938.20" width="20.25" height="13.80" fill="#2c4ac7"/><rect x="450.25" y="938.20" width="20.25" height="13.80" fill="#3243ba"/><rect x="470.50" y="938.20" width="20.25" height="13.80" fill="#2c4ac7"/><rect x="490.75" y="938.20" width="60.75" height="13.80" fill="#353dad"/><rect x="551.50" y="938.20" width="121.50" height="13.80" fill="#3637a0"/><rect x="673.00" y="938.20" width="101.25" height="13.80" fill="#363093"/><rect x="774.25" y="938.20" width="72.95" height="13.80" fill="#3637a0"/>
<rect x="227.50" y="952.00" width="20.25" height="19.00" fill="#363093"/><rect x="288.25" y="952.00" width="20.25" height="19.00" fill="#363093"/><rect x="389.50" y="952.00" width="162.00" height="19.00" fill="#363093"/><rect x="754.00" y="952.00" width="93.20" height="19.00" fill="#363093"/>


</g>
<g fill="#262626"><rect x="154.00" y="898.10" width="694.00" height="2.85"/><rect x="154.00" y="1010.95" width="694.00" height="1.90"/><rect x="154.00" y="898.10" width="1.60" height="114.75"/><rect x="846.00" y="898.10" width="2.00" height="114.75"/></g>
<text x="500.6" y="891.70" font-size="23.2" font-weight="bold" text-anchor="middle" fill="#000">mixotroph</text>
<text x="141.5" y="907.10" font-size="20.83" text-anchor="end" fill="#262626">0</text><text x="141.5" y="952.34" font-size="20.83" text-anchor="end" fill="#262626">-100</text><text x="141.5" y="996.88" font-size="20.83" text-anchor="end" fill="#262626">-200</text>
<text x="155.20" y="1045.05" font-size="20.83" text-anchor="middle" fill="#262626">20</text><text x="258.18" y="1045.05" font-size="20.83" text-anchor="middle" fill="#262626">25</text><text x="359.45" y="1045.05" font-size="20.83" text-anchor="middle" fill="#262626">30</text><text x="460.52" y="1045.05" font-size="20.83" text-anchor="middle" fill="#262626">35</text><text x="561.90" y="1045.05" font-size="20.83" text-anchor="middle" fill="#262626">40</text><text x="663.67" y="1045.05" font-size="20.83" text-anchor="middle" fill="#262626">45</text><text x="765.45" y="1045.05" font-size="20.83" text-anchor="middle" fill="#262626">50</text>
<rect x="895.55" y="898.35" width="95.90" height="112.05" fill="url(#pg)" stroke="#262626" stroke-width="2.7"/><rect x="988.8" y="953.17" width="3" height="2.4" fill="#262626"/><text x="1004.1" y="1017.00" font-size="18.75" fill="#262626">0</text><text x="1004.1" y="960.93" font-size="18.75" fill="#262626">2</text><text x="1004.1" y="904.85" font-size="18.75" fill="#262626">4</text>
<g shape-rendering="crispEdges">
<rect x="154.80" y="1089.10" width="692.40" height="112.75" fill="#352a87"/>
<rect x="154.80" y="1089.10" width="10.20" height="6.90" fill="#0d75dc"/><rect x="165.00" y="1089.10" width="42.25" height="6.90" fill="#046de0"/><rect x="207.25" y="1089.10" width="81.00" height="6.90" fill="#0d75dc"/><rect x="288.25" y="1089.10" width="20.25" height="6.90" fill="#1079da"/><rect x="308.50" y="1089.10" width="20.25" height="6.90" fill="#127dd8"/><rect x="328.75" y="1089.10" width="40.50" height="6.90" fill="#1389d3"/><rect x="369.25" y="1089.10" width="20.25" height="6.90" fill="#046de0"/><rect x="389.50" y="1089.10" width="40.50" height="6.90" fill="#353dad"/><rect x="430.00" y="1089.10" width="20.25" height="6.90" fill="#3243ba"/><rect x="450.25" y="1089.10" width="20.25" height="6.90" fill="#2053d4"/><rect x="470.50" y="1089.10" width="20.25" height="6.90" fill="#0268e1"/><rect x="490.75" y="1089.10" width="20.25" height="6.90" fill="#1481d6"/><rect x="511.00" y="1089.10" width="20.25" height="6.90" fill="#06a4ca"/><rect x="531.25" y="1089.10" width="20.25" height="6.90" fill="#25b5a9"/><rect x="551.50" y="1089.10" width="20.25" height="6.90" fill="#71bf80"/><rect x="571.75" y="1089.10" width="20.25" height="6.90" fill="#65be86"/><rect x="592.00" y="1089.10" width="20.25" height="6.90" fill="#59bd8c"/><rect x="612.25" y="1089.10" width="20.25" height="6.90" fill="#4dbc92"/><rect x="632.50" y="1089.10" width="20.25" height="6.90" fill="#7cbf7b"/><rect x="652.75" y="1089.10" width="20.25" height="6.90" fill="#c8bc5d"/><rect x="673.00" y="1089.10" width="40.50" height="6.90" fill="#f1b94a"/><rect x="713.50" y="1089.10" width="20.25" height="6.90" fill="#d9ba56"/><rect x="733.75" y="1089.10" width="40.50" height="6.90" fill="#f1b94a"/><rect x="774.25" y="1089.10" width="20.25" height="6.90" fill="#e9b94e"/><rect x="794.50" y="1089.10" width="20.25" height="6.90" fill="#fec832"/><rect x="814.75" y="1089.10" width="20.25" height="6.90" fill="#ffc337"/><rect x="835.00" y="1089.10" width="12.20" height="6.90" fill="#fec832"/>
<rect x="154.80" y="1096.00" width="10.20" height="5.00" fill="#0d75dc"/><rect x="165.00" y="1096.00" width="42.25" height="5.00" fill="#046de0"/><rect x="207.25" y="1096.00" width="81.00" height="5.00" fill="#0d75dc"/><rect x="288.25" y="1096.00" width="20.25" height="5.00" fill="#1079da"/><rect x="308.50" y="1096.00" width="20.25" height="5.00" fill="#127dd8"/><rect x="328.75" y="1096.00" width="40.50" height="5.00" fill="#1389d3"/><rect x="369.25" y="1096.00" width="20.25" height="5.00" fill="#046de0"/><rect x="389.50" y="1096.00" width="40.50" height="5.00" fill="#353dad"/><rect x="430.00" y="1096.00" width="20.25" height="5.00" fill="#3243ba"/><rect x="450.25" y="1096.00" width="20.25" height="5.00" fill="#2053d4"/><rect x="470.50" y="1096.00" width="20.25" height="5.00" fill="#0268e1"/><rect x="490.75" y="1096.00" width="20.25" height="5.00" fill="#1481d6"/><rect x="511.00" y="1096.00" width="20.25" height="5.00" fill="#06a4ca"/><rect x="531.25" y="1096.00" width="20.25" height="5.00" fill="#25b5a9"/><rect x="551.50" y="1096.00" width="20.25" height="5.00" fill="#71bf80"/><rect x="571.75" y="1096.00" width="20.25" height="5.00" fill="#65be86"/><rect x="592.00" y="1096.00" width="20.25" height="5.00" fill="#59bd8c"/><rect x="612.25" y="1096.00" width="20.25" height="5.00" fill="#4dbc92"/><rect x="632.50" y="1096.00" width="20.25" height="5.00" fill="#7cbf7b"/><rect x="652.75" y="1096.00" width="20.25" height="5.00" fill="#c8bc5d"/><rect x="673.00" y="1096.00" width="40.50" height="5.00" fill="#f1b94a"/><rect x="713.50" y="1096.00" width="20.25" height="5.00" fill="#d9ba56"/><rect x="733.75" y="1096.00" width="40.50" height="5.00" fill="#f1b94a"/><rect x="774.25" y="1096.00" width="20.25" height="5.00" fill="#e9b94e"/><rect x="794.50" y="1096.00" width="20.25" height="5.00" fill="#fec832"/><rect x="814.75" y="1096.00" width="20.25" height="5.00" fill="#ffc337"/><rect x="835.00" y="1096.00" width="12.20" height="5.00" fill="#fec832"/>
<rect x="154.80" y="1101.00" width="10.20" height="8.00" fill="#0d75dc"/><rect x="165.00" y="1101.00" width="42.25" height="8.00" fill="#046de0"/><rect x="207.25" y="1101.00" width="20.25" height="8.00" fill="#0871de"/><rect x="227.50" y="1101.00" width="60.75" height="8.00" fill="#0d75dc"/><rect x="288.25" y="1101.00" width="20.25" height="8.00" fill="#1079da"/><rect x="308.50" y="1101.00" width="20.25" height="8.00" fill="#127dd8"/><rect x="328.75" y="1101.00" width="20.25" height="8.00" fill="#1485d4"/><rect x="349.00" y="1101.00" width="20.25" height="8.00" fill="#127dd8"/><rect x="369.25" y="1101.00" width="20.25" height="8.00" fill="#046de0"/><rect x="389.50" y="1101.00" width="20.25" height="8.00" fill="#3243ba"/><rect x="409.75" y="1101.00" width="20.25" height="8.00" fill="#353dad"/><rect x="430.00" y="1101.00" width="20.25" height="8.00" fill="#2c4ac7"/><rect x="450.25" y="1101.00" width="20.25" height="8.00" fill="#0363e1"/><rect x="470.50" y="1101.00" width="20.25" height="8.00" fill="#046de0"/><rect x="490.75" y="1101.00" width="20.25" height="8.00" fill="#0998d1"/><rect x="511.00" y="1101.00" width="20.25" height="8.00" fill="#15b1b4"/><rect x="531.25" y="1101.00" width="20.25" height="8.00" fill="#25b5a9"/><rect x="551.50" y="1101.00" width="40.50" height="8.00" fill="#38b99e"/><rect x="592.00" y="1101.00" width="20.25" height="8.00" fill="#42bb98"/><rect x="612.25" y="1101.00" width="20.25" height="8.00" fill="#71bf80"/><rect x="632.50" y="1101.00" width="20.25" height="8.00" fill="#92bf73"/><rect x="652.75" y="1101.00" width="81.00" height="8.00" fill="#c0bc60"/><rect x="733.75" y="1101.00" width="20.25" height="8.00" fill="#d1bb59"/><rect x="754.00" y="1101.00" width="20.25" height="8.00" fill="#f1b94a"/><rect x="774.25" y="1101.00" width="20.25" height="8.00" fill="#e1b952"/><rect x="794.50" y="1101.00" width="20.25" height="8.00" fill="#b7bd64"/><rect x="814.75" y="1101.00" width="20.25" height="8.00" fill="#aebe67"/><rect x="835.00" y="1101.00" width="12.20" height="8.00" fill="#9cbf6f"/>
<rect x="154.80" y="1109.00" width="10.20" height="9.00" fill="#0d75dc"/><rect x="165.00" y="1109.00" width="82.75" height="9.00" fill="#046de0"/><rect x="247.75" y="1109.00" width="20.25" height="9.00" fill="#0268e1"/><rect x="268.00" y="1109.00" width="20.25" height="9.00" fill="#046de0"/><rect x="288.25" y="1109.00" width="20.25" height="9.00" fill="#0871de"/><rect x="308.50" y="1109.00" width="20.25" height="9.00" fill="#127dd8"/><rect x="328.75" y="1109.00" width="20.25" height="9.00" fill="#1481d6"/><rect x="349.00" y="1109.00" width="20.25" height="9.00" fill="#0d75dc"/><rect x="369.25" y="1109.00" width="20.25" height="9.00" fill="#0363e1"/><rect x="389.50" y="1109.00" width="40.50" height="9.00" fill="#3243ba"/><rect x="430.00" y="1109.00" width="20.25" height="9.00" fill="#046de0"/><rect x="450.25" y="1109.00" width="20.25" height="9.00" fill="#1481d6"/><rect x="470.50" y="1109.00" width="20.25" height="9.00" fill="#1389d3"/><rect x="490.75" y="1109.00" width="20.25" height="9.00" fill="#07a9c2"/><rect x="511.00" y="1109.00" width="20.25" height="9.00" fill="#15b1b4"/><rect x="531.25" y="1109.00" width="20.25" height="9.00" fill="#1db3af"/><rect x="551.50" y="1109.00" width="20.25" height="9.00" fill="#0aacbe"/><rect x="571.75" y="1109.00" width="20.25" height="9.00" fill="#07a9c2"/><rect x="592.00" y="1109.00" width="40.50" height="9.00" fill="#06a7c6"/><rect x="632.50" y="1109.00" width="20.25" height="9.00" fill="#06a4ca"/><rect x="652.75" y="1109.00" width="20.25" height="9.00" fill="#079ccf"/><rect x="673.00" y="1109.00" width="40.50" height="9.00" fill="#06a0cd"/><rect x="713.50" y="1109.00" width="20.25" height="9.00" fill="#06a4ca"/><rect x="733.75" y="1109.00" width="20.25" height="9.00" fill="#15b1b4"/><rect x="754.00" y="1109.00" width="20.25" height="9.00" fill="#9cbf6f"/><rect x="774.25" y="1109.00" width="20.25" height="9.00" fill="#59bd8c"/><rect x="794.50" y="1109.00" width="20.25" height="9.00" fill="#108ed2"/><rect x="814.75" y="1109.00" width="20.25" height="9.00" fill="#079ccf"/><rect x="835.00" y="1109.00" width="12.20" height="9.00" fill="#108ed2"/>
<rect x="154.80" y="1118.00" width="72.70" height="10.20" fill="#0268e1"/><rect x="227.50" y="1118.00" width="60.75" height="10.20" fill="#0363e1"/><rect x="288.25" y="1118.00" width="20.25" height="10.20" fill="#046de0"/><rect x="308.50" y="1118.00" width="20.25" height="10.20" fill="#0871de"/><rect x="328.75" y="1118.00" width="20.25" height="10.20" fill="#046de0"/><rect x="349.00" y="1118.00" width="20.25" height="10.20" fill="#0363e1"/><rect x="369.25" y="1118.00" width="20.25" height="10.20" fill="#2053d4"/><rect x="389.50" y="1118.00" width="20.25" height="10.20" fill="#2c4ac7"/><rect x="409.75" y="1118.00" width="20.25" height="10.20" fill="#0363e1"/><rect x="430.00" y="1118.00" width="20.25" height="10.20" fill="#0d75dc"/><rect x="450.25" y="1118.00" width="20.25" height="10.20" fill="#0c93d2"/><rect x="470.50" y="1118.00" width="20.25" height="10.20" fill="#0998d1"/><rect x="490.75" y="1118.00" width="20.25" height="10.20" fill="#1481d6"/><rect x="511.00" y="1118.00" width="40.50" height="10.20" fill="#0871de"/><rect x="551.50" y="1118.00" width="40.50" height="10.20" fill="#0d75dc"/><rect x="592.00" y="1118.00" width="20.25" height="10.20" fill="#0871de"/><rect x="612.25" y="1118.00" width="20.25" height="10.20" fill="#046de0"/><rect x="632.50" y="1118.00" width="20.25" height="10.20" fill="#0268e1"/><rect x="652.75" y="1118.00" width="40.50" height="10.20" fill="#0363e1"/><rect x="693.25" y="1118.00" width="40.50" height="10.20" fill="#0268e1"/><rect x="733.75" y="1118.00" width="20.25" height="10.20" fill="#0871de"/><rect x="754.00" y="1118.00" width="20.25" height="10.20" fill="#1485d4"/><rect x="774.25" y="1118.00" width="20.25" height="10.20" fill="#0363e1"/><rect x="794.50" y="1118.00" width="20.25" height="10.20" fill="#2053d4"/><rect x="814.75" y="1118.00" width="32.45" height="10.20" fill="#0268e1"/>
<rect x="154.80" y="1128.20" width="32.20" height="13.80" fill="#2053d4"/><rect x="187.00" y="1128.20" width="20.25" height="13.80" fill="#0f5cdd"/><rect x="207.25" y="1128.20" width="20.25" height="13.80" fill="#3243ba"/><rect x="227.50" y="1128.20" width="40.50" height="13.80" fill="#2053d4"/><rect x="268.00" y="1128.20" width="60.75" height="13.80" fill="#0f5cdd"/><rect x="328.75" y="1128.20" width="40.50" height="13.80" fill="#2053d4"/><rect x="369.25" y="1128.20" width="40.50" height="13.80" fill="#0f5cdd"/><rect x="409.75" y="1128.20" width="40.50" height="13.80" fill="#0268e1"/><rect x="450.25" y="1128.20" width="40.50" height="13.80" fill="#0363e1"/><rect x="490.75" y="1128.20" width="20.25" height="13.80" fill="#2053d4"/><rect x="511.00" y="1128.20" width="40.50" height="13.80" fill="#3243ba"/><rect x="551.50" y="1128.20" width="40.50" height="13.80" fill="#2c4ac7"/><rect x="592.00" y="1128.20" width="101.25" height="13.80" fill="#3243ba"/><rect x="693.25" y="1128.20" width="81.00" height="13.80" fill="#2c4ac7"/><rect x="774.25" y="1128.20" width="20.25" height="13.80" fill="#353dad"/><rect x="794.50" y="1128.20" width="20.25" height="13.80" fill="#3637a0"/><rect x="814.75" y="1128.20" width="20.25" height="13.80" fill="#353dad"/><rect x="835.00" y="1128.20" width="12.20" height="13.80" fill="#2c4ac7"/>
<rect x="154.80" y="1142.00" width="32.20" height="19.00" fill="#363093"/><rect x="187.00" y="1142.00" width="20.25" height="19.00" fill="#3637a0"/><rect x="207.25" y="1142.00" width="81.00" height="19.00" fill="#363093"/><rect x="288.25" y="1142.00" width="20.25" height="19.00" fill="#3637a0"/><rect x="308.50" y="1142.00" width="20.25" height="19.00" fill="#363093"/><rect x="328.75" y="1142.00" width="40.50" height="19.00" fill="#3637a0"/><rect x="369.25" y="1142.00" width="20.25" height="19.00" fill="#353dad"/><rect x="389.50" y="1142.00" width="60.75" height="19.00" fill="#3243ba"/><rect x="450.25" y="1142.00" width="60.75" height="19.00" fill="#353dad"/><rect x="511.00" y="1142.00" width="162.00" height="19.00" fill="#3637a0"/><rect x="673.00" y="1142.00" width="60.75" height="19.00" fill="#353dad"/><rect x="733.75" y="1142.00" width="40.50" height="19.00" fill="#3637a0"/><rect x="774.25" y="1142.00" width="40.50" height="19.00" fill="#363093"/><rect x="814.75" y="1142.00" width="20.25" height="19.00" fill="#3637a0"/><rect x="835.00" y="1142.00" width="12.20" height="19.00" fill="#353dad"/>
<rect x="389.50" y="1161.00" width="20.25" height="28.00" fill="#363093"/><rect x="409.75" y="1161.00" width="20.25" height="28.00" fill="#3637a0"/><rect x="430.00" y="1161.00" width="20.25" height="28.00" fill="#363093"/><rect x="450.25" y="1161.00" width="60.75" height="28.00" fill="#3637a0"/><rect x="511.00" y="1161.00" width="121.50" height="28.00" fill="#363093"/><rect x="632.50" y="1161.00" width="81.00" height="28.00" fill="#3637a0"/><rect x="713.50" y="1161.00" width="60.75" height="28.00" fill="#363093"/><rect x="814.75" y="1161.00" width="32.45" height="28.00" fill="#363093"/>
<rect x="430.00" y="1189.00" width="303.75" height="12.85" fill="#363093"/>
</g>
<g fill="#262626"><rect x="154.00" y="1088.10" width="694.00" height="2.85"/><rect x="154.00" y="1200.95" width="694.00" height="1.90"/><rect x="154.00" y="1088.10" width="1.60" height="114.75"/><rect x="846.00" y="1088.10" width="2.00" height="114.75"/></g>
<text x="500.6" y="1081.70" font-size="23.2" font-weight="bold" text-anchor="middle" fill="#000">zooplankton</text>
<text x="141.5" y="1097.10" font-size="20.83" text-anchor="end" fill="#262626">0</text><text x="141.5" y="1142.34" font-size="20.83" text-anchor="end" fill="#262626">-100</text><text x="141.5" y="1186.88" font-size="20.83" text-anchor="end" fill="#262626">-200</text>
<text x="155.20" y="1235.05" font-size="20.83" text-anchor="middle" fill="#262626">20</text><text x="258.18" y="1235.05" font-size="20.83" text-anchor="middle" fill="#262626">25</text><text x="359.45" y="1235.05" font-size="20.83" text-anchor="middle" fill="#262626">30</text><text x="460.52" y="1235.05" font-size="20.83" text-anchor="middle" fill="#262626">35</text><text x="561.90" y="1235.05" font-size="20.83" text-anchor="middle" fill="#262626">40</text><text x="663.67" y="1235.05" font-size="20.83" text-anchor="middle" fill="#262626">45</text><text x="765.45" y="1235.05" font-size="20.83" text-anchor="middle" fill="#262626">50</text>
<rect x="895.55" y="1090.30" width="95.90" height="112.05" fill="url(#pg)" stroke="#262626" stroke-width="2.7"/><rect x="988.8" y="1145.12" width="3" height="2.4" fill="#262626"/><text x="1004.1" y="1208.95" font-size="18.75" fill="#262626">0</text><text x="1004.1" y="1152.88" font-size="18.75" fill="#262626">2</text><text x="1004.1" y="1096.80" font-size="18.75" fill="#262626">4</text>
<g shape-rendering="crispEdges">
<rect x="154.80" y="1282.20" width="692.40" height="111.75" fill="#352a87"/>
<rect x="154.80" y="1282.20" width="52.45" height="4.00" fill="#363093"/><rect x="207.25" y="1282.20" width="121.50" height="4.00" fill="#3637a0"/><rect x="328.75" y="1282.20" width="20.25" height="4.00" fill="#353dad"/><rect x="349.00" y="1282.20" width="20.25" height="4.00" fill="#3637a0"/><rect x="369.25" y="1282.20" width="20.25" height="4.00" fill="#363093"/><rect x="470.50" y="1282.20" width="20.25" height="4.00" fill="#363093"/><rect x="490.75" y="1282.20" width="20.25" height="4.00" fill="#3637a0"/><rect x="511.00" y="1282.20" width="20.25" height="4.00" fill="#353dad"/><rect x="531.25" y="1282.20" width="20.25" height="4.00" fill="#2c4ac7"/><rect x="551.50" y="1282.20" width="20.25" height="4.00" fill="#0268e1"/><rect x="571.75" y="1282.20" width="40.50" height="4.00" fill="#0f5cdd"/><rect x="612.25" y="1282.20" width="20.25" height="4.00" fill="#0268e1"/><rect x="632.50" y="1282.20" width="40.50" height="4.00" fill="#046de0"/><rect x="673.00" y="1282.20" width="20.25" height="4.00" fill="#2c4ac7"/><rect x="693.25" y="1282.20" width="20.25" height="4.00" fill="#353dad"/><rect x="713.50" y="1282.20" width="20.25" height="4.00" fill="#2053d4"/><rect x="733.75" y="1282.20" width="20.25" height="4.00" fill="#0268e1"/><rect x="754.00" y="1282.20" width="20.25" height="4.00" fill="#0d75dc"/><rect x="774.25" y="1282.20" width="40.50" height="4.00" fill="#0268e1"/><rect x="814.75" y="1282.20" width="20.25" height="4.00" fill="#1079da"/><rect x="835.00" y="1282.20" width="12.20" height="4.00" fill="#127dd8"/>
<rect x="154.80" y="1286.20" width="52.45" height="6.00" fill="#363093"/><rect x="207.25" y="1286.20" width="121.50" height="6.00" fill="#3637a0"/><rect x="328.75" y="1286.20" width="20.25" height="6.00" fill="#353dad"/><rect x="349.00" y="1286.20" width="20.25" height="6.00" fill="#3637a0"/><rect x="369.25" y="1286.20" width="20.25" height="6.00" fill="#363093"/><rect x="470.50" y="1286.20" width="20.25" height="6.00" fill="#363093"/><rect x="490.75" y="1286.20" width="20.25" height="6.00" fill="#3637a0"/><rect x="511.00" y="1286.20" width="20.25" height="6.00" fill="#353dad"/><rect x="531.25" y="1286.20" width="20.25" height="6.00" fill="#2c4ac7"/><rect x="551.50" y="1286.20" width="20.25" height="6.00" fill="#0268e1"/><rect x="571.75" y="1286.20" width="40.50" height="6.00" fill="#0f5cdd"/><rect x="612.25" y="1286.20" width="20.25" height="6.00" fill="#0268e1"/><rect x="632.50" y="1286.20" width="40.50" height="6.00" fill="#046de0"/><rect x="673.00" y="1286.20" width="20.25" height="6.00" fill="#2c4ac7"/><rect x="693.25" y="1286.20" width="20.25" height="6.00" fill="#353dad"/><rect x="713.50" y="1286.20" width="20.25" height="6.00" fill="#2053d4"/><rect x="733.75" y="1286.20" width="20.25" height="6.00" fill="#0268e1"/><rect x="754.00" y="1286.20" width="20.25" height="6.00" fill="#0d75dc"/><rect x="774.25" y="1286.20" width="40.50" height="6.00" fill="#0268e1"/><rect x="814.75" y="1286.20" width="20.25" height="6.00" fill="#1079da"/><rect x="835.00" y="1286.20" width="12.20" height="6.00" fill="#127dd8"/>
<rect x="154.80" y="1292.20" width="32.20" height="8.00" fill="#363093"/><rect x="187.00" y="1292.20" width="141.75" height="8.00" fill="#3637a0"/><rect x="328.75" y="1292.20" width="20.25" height="8.00" fill="#353dad"/><rect x="349.00" y="1292.20" width="20.25" height="8.00" fill="#3637a0"/><rect x="369.25" y="1292.20" width="20.25" height="8.00" fill="#363093"/><rect x="450.25" y="1292.20" width="40.50" height="8.00" fill="#363093"/><rect x="490.75" y="1292.20" width="20.25" height="8.00" fill="#3637a0"/><rect x="511.00" y="1292.20" width="20.25" height="8.00" fill="#2c4ac7"/><rect x="531.25" y="1292.20" width="20.25" height="8.00" fill="#2053d4"/><rect x="551.50" y="1292.20" width="20.25" height="8.00" fill="#0f5cdd"/><rect x="571.75" y="1292.20" width="20.25" height="8.00" fill="#2053d4"/><rect x="592.00" y="1292.20" width="20.25" height="8.00" fill="#0f5cdd"/><rect x="612.25" y="1292.20" width="60.75" height="8.00" fill="#046de0"/><rect x="673.00" y="1292.20" width="20.25" height="8.00" fill="#2c4ac7"/><rect x="693.25" y="1292.20" width="20.25" height="8.00" fill="#353dad"/><rect x="713.50" y="1292.20" width="20.25" height="8.00" fill="#0363e1"/><rect x="733.75" y="1292.20" width="40.50" height="8.00" fill="#0d75dc"/><rect x="774.25" y="1292.20" width="20.25" height="8.00" fill="#0363e1"/><rect x="794.50" y="1292.20" width="20.25" height="8.00" fill="#0f5cdd"/><rect x="814.75" y="1292.20" width="32.45" height="8.00" fill="#0d75dc"/>
<rect x="154.80" y="1300.20" width="32.20" height="9.00" fill="#363093"/><rect x="187.00" y="1300.20" width="121.50" height="9.00" fill="#3637a0"/><rect x="308.50" y="1300.20" width="40.50" height="9.00" fill="#353dad"/><rect x="349.00" y="1300.20" width="20.25" height="9.00" fill="#3637a0"/><rect x="369.25" y="1300.20" width="20.25" height="9.00" fill="#363093"/><rect x="430.00" y="1300.20" width="20.25" height="9.00" fill="#363093"/><rect x="450.25" y="1300.20" width="40.50" height="9.00" fill="#3637a0"/><rect x="490.75" y="1300.20" width="20.25" height="9.00" fill="#2c4ac7"/><rect x="511.00" y="1300.20" width="20.25" height="9.00" fill="#046de0"/><rect x="531.25" y="1300.20" width="20.25" height="9.00" fill="#0268e1"/><rect x="551.50" y="1300.20" width="20.25" height="9.00" fill="#2c4ac7"/><rect x="571.75" y="1300.20" width="20.25" height="9.00" fill="#353dad"/><rect x="592.00" y="1300.20" width="20.25" height="9.00" fill="#3243ba"/><rect x="612.25" y="1300.20" width="81.00" height="9.00" fill="#2c4ac7"/><rect x="693.25" y="1300.20" width="20.25" height="9.00" fill="#3243ba"/><rect x="713.50" y="1300.20" width="20.25" height="9.00" fill="#2c4ac7"/><rect x="733.75" y="1300.20" width="20.25" height="9.00" fill="#0363e1"/><rect x="754.00" y="1300.20" width="20.25" height="9.00" fill="#0d75dc"/><rect x="774.25" y="1300.20" width="20.25" height="9.00" fill="#0f5cdd"/><rect x="794.50" y="1300.20" width="20.25" height="9.00" fill="#353dad"/><rect x="814.75" y="1300.20" width="20.25" height="9.00" fill="#3243ba"/><rect x="835.00" y="1300.20" width="12.20" height="9.00" fill="#2053d4"/>
<rect x="154.80" y="1309.20" width="194.20" height="10.10" fill="#3637a0"/><rect x="349.00" y="1309.20" width="81.00" height="10.10" fill="#363093"/><rect x="430.00" y="1309.20" width="20.25" height="10.10" fill="#3243ba"/><rect x="450.25" y="1309.20" width="40.50" height="10.10" fill="#2053d4"/><rect x="490.75" y="1309.20" width="20.25" height="10.10" fill="#2c4ac7"/><rect x="511.00" y="1309.20" width="20.25" height="10.10" fill="#3243ba"/><rect x="531.25" y="1309.20" width="20.25" height="10.10" fill="#353dad"/><rect x="551.50" y="1309.20" width="20.25" height="10.10" fill="#3637a0"/><rect x="571.75" y="1309.20" width="20.25" height="10.10" fill="#363093"/><rect x="592.00" y="1309.20" width="20.25" height="10.10" fill="#3637a0"/><rect x="612.25" y="1309.20" width="40.50" height="10.10" fill="#353dad"/><rect x="652.75" y="1309.20" width="101.25" height="10.10" fill="#3637a0"/><rect x="754.00" y="1309.20" width="20.25" height="10.10" fill="#3243ba"/><rect x="774.25" y="1309.20" width="60.75" height="10.10" fill="#353dad"/><rect x="835.00" y="1309.20" width="12.20" height="10.10" fill="#3243ba"/>
<rect x="154.80" y="1319.30" width="173.95" height="13.80" fill="#3637a0"/><rect x="328.75" y="1319.30" width="60.75" height="13.80" fill="#363093"/><rect x="389.50" y="1319.30" width="20.25" height="13.80" fill="#3637a0"/><rect x="409.75" y="1319.30" width="81.00" height="13.80" fill="#353dad"/><rect x="490.75" y="1319.30" width="40.50" height="13.80" fill="#3637a0"/><rect x="531.25" y="1319.30" width="81.00" height="13.80" fill="#363093"/><rect x="612.25" y="1319.30" width="40.50" height="13.80" fill="#3637a0"/><rect x="652.75" y="1319.30" width="101.25" height="13.80" fill="#363093"/><rect x="754.00" y="1319.30" width="20.25" height="13.80" fill="#3637a0"/><rect x="774.25" y="1319.30" width="72.95" height="13.80" fill="#353dad"/>
<rect x="165.00" y="1333.10" width="82.75" height="19.10" fill="#363093"/><rect x="268.00" y="1333.10" width="465.75" height="19.10" fill="#363093"/><rect x="733.75" y="1333.10" width="40.50" height="19.10" fill="#3637a0"/><rect x="774.25" y="1333.10" width="40.50" height="19.10" fill="#353dad"/><rect x="814.75" y="1333.10" width="32.45" height="19.10" fill="#3637a0"/>
<rect x="470.50" y="1352.20" width="243.00" height="28.10" fill="#363093"/><rect x="713.50" y="1352.20" width="40.50" height="28.10" fill="#3637a0"/><rect x="754.00" y="1352.20" width="60.75" height="28.10" fill="#353dad"/><rect x="814.75" y="1352.20" width="32.45" height="28.10" fill="#3637a0"/>
<rect x="490.75" y="1380.30" width="202.50" height="13.65" fill="#363093"/><rect x="693.25" y="1380.30" width="40.50" height="13.65" fill="#3637a0"/><rect x="733.75" y="1380.30" width="113.45" height="13.65" fill="#353dad"/>
</g>
<g fill="#262626"><rect x="256.78" y="1280.30" width="2.8" height="3"/><rect x="358.05" y="1280.30" width="2.8" height="3"/><rect x="459.12" y="1280.30" width="2.8" height="3"/><rect x="560.50" y="1280.30" width="2.8" height="3"/><rect x="662.27" y="1280.30" width="2.8" height="3"/><rect x="764.05" y="1280.30" width="2.8" height="3"/><rect x="154.00" y="1278.10" width="694.00" height="2.70"/><rect x="154.00" y="1393.05" width="694.00" height="1.90"/><rect x="154.00" y="1278.10" width="1.60" height="116.85"/><rect x="846.00" y="1278.10" width="2.00" height="116.85"/></g>
<text x="500.6" y="1271.70" font-size="23.2" font-weight="bold" text-anchor="middle" fill="#000">het bacteria</text>
<text x="141.5" y="1287.10" font-size="20.83" text-anchor="end" fill="#262626">0</text><text x="141.5" y="1333.18" font-size="20.83" text-anchor="end" fill="#262626">-100</text><text x="141.5" y="1378.56" font-size="20.83" text-anchor="end" fill="#262626">-200</text>
<text x="155.20" y="1427.15" font-size="20.83" text-anchor="middle" fill="#262626">20</text><text x="258.18" y="1427.15" font-size="20.83" text-anchor="middle" fill="#262626">25</text><text x="359.45" y="1427.15" font-size="20.83" text-anchor="middle" fill="#262626">30</text><text x="460.52" y="1427.15" font-size="20.83" text-anchor="middle" fill="#262626">35</text><text x="561.90" y="1427.15" font-size="20.83" text-anchor="middle" fill="#262626">40</text><text x="663.67" y="1427.15" font-size="20.83" text-anchor="middle" fill="#262626">45</text><text x="765.45" y="1427.15" font-size="20.83" text-anchor="middle" fill="#262626">50</text>
<rect x="895.55" y="1279.40" width="95.90" height="112.95" fill="url(#pg)" stroke="#262626" stroke-width="2.7"/><rect x="988.8" y="1334.67" width="3" height="2.4" fill="#262626"/><text x="1004.1" y="1398.95" font-size="18.75" fill="#262626">0</text><text x="1004.1" y="1342.42" font-size="18.75" fill="#262626">2</text><text x="1004.1" y="1285.90" font-size="18.75" fill="#262626">4</text>
<text x="197.5" y="134.6" font-size="20.83" fill="#000">month 9</text>
<text transform="translate(72.8,573.2) rotate(-90)" font-size="23.2" text-anchor="middle" fill="#262626">depth</text>
<text x="500.6" y="1459.3" font-size="23.2" text-anchor="middle" fill="#262626">latitude</text>
</svg>
</body></html>
